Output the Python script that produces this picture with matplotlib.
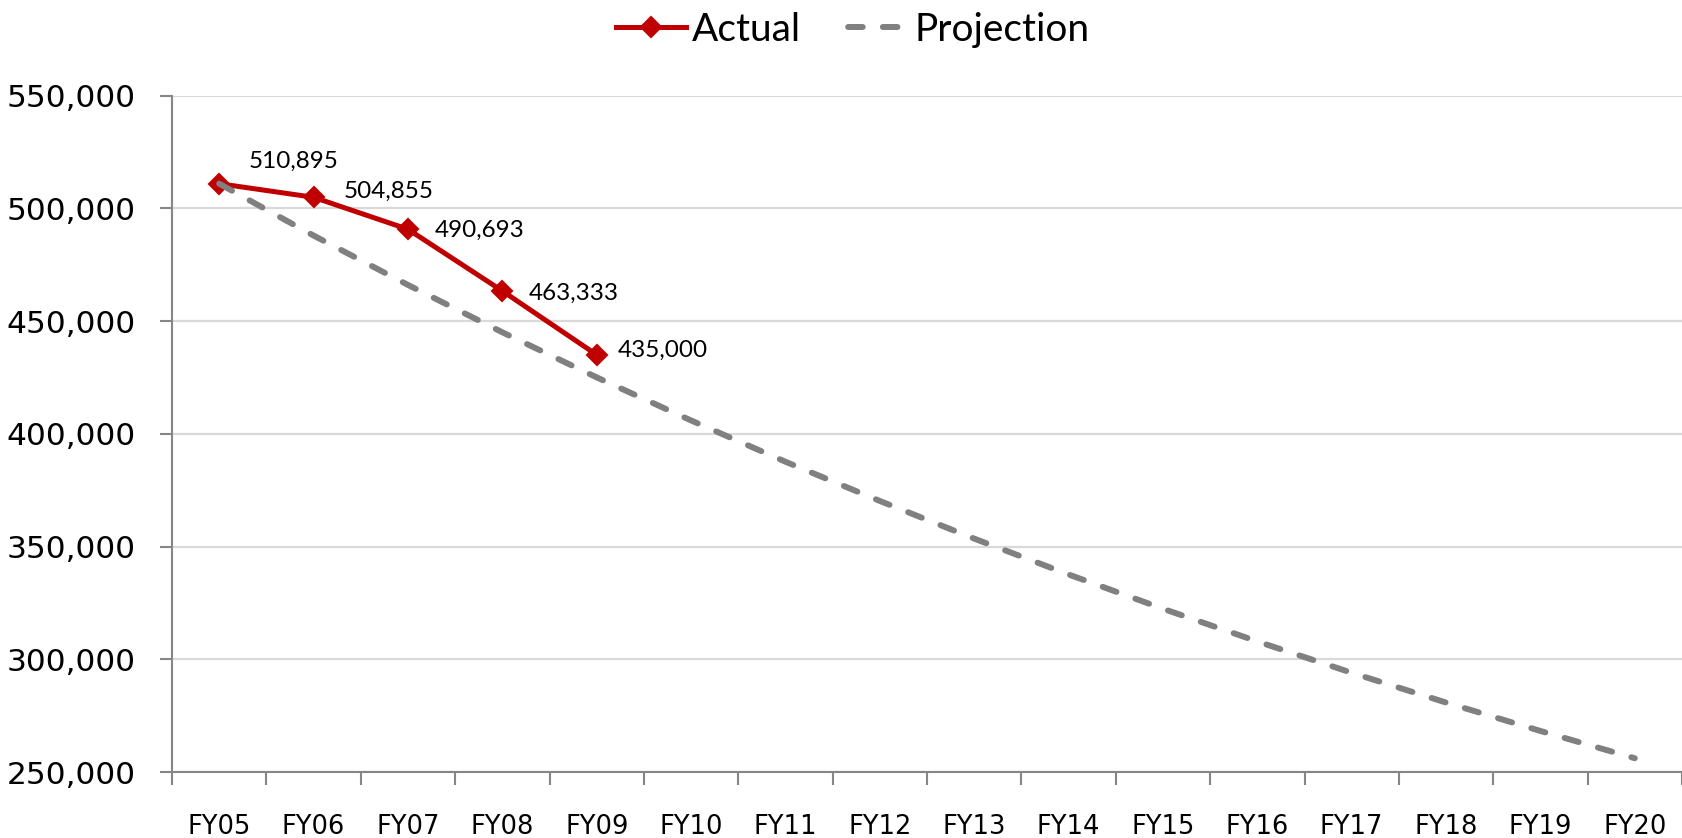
import matplotlib
matplotlib.use("Agg")
import matplotlib.pyplot as plt
from matplotlib.ticker import FuncFormatter, FixedLocator
from matplotlib.lines import Line2D

categories = ["FY05", "FY06", "FY07", "FY08", "FY09", "FY10", "FY11", "FY12",
              "FY13", "FY14", "FY15", "FY16", "FY17", "FY18", "FY19", "FY20"]
actual = [510895, 504855, 490693, 463333, 435000]
projection = [510895, 487900, 466000, 445000, 425000, 405900, 387600, 370200,
              353500, 337600, 322400, 307900, 294000, 280800, 268200, 256100]
y_ticks = [250000, 300000, 350000, 400000, 450000, 500000, 550000]
# label offsets in points (dx, dy)
label_offsets = [(21, 16), (22, 4), (19, -1), (19, -2), (15, 3)]

plt.rcParams['font.family'] = ['DejaVu Sans']
plt.rcParams['lines.scale_dashes'] = False

fig = plt.figure(figsize=(16.82, 8.38), dpi=100)
ax = fig.add_axes([172 / 1682, 66 / 838, 1 - 172 / 1682, (772 - 95.5) / 838])

x_all = list(range(len(categories)))
x_act = x_all[:len(actual)]

red = "#C00000"
gray = "#808080"
dash = (10.5, 14.5)

ax.plot(x_act, actual, color=red, lw=3.6, marker="D", ms=10, mew=1.5,
        mec=red, mfc=red, zorder=3, solid_capstyle="round")
ax.plot(x_all, projection, color=gray, lw=4.3, zorder=4,
        linestyle=(0, dash), dash_capstyle="round")

for xi, v, (dx, dy) in zip(x_act, actual, label_offsets):
    ax.annotate(f"{v:,}", (xi, v), xytext=(dx, dy), textcoords="offset points",
                ha="left", va="center", fontsize=17.5, color="black", family="Lato")

ax.set_xlim(-0.5, len(categories) - 0.5)
ax.set_ylim(y_ticks[0], y_ticks[-1])
ax.set_yticks(y_ticks)
ax.yaxis.set_major_formatter(FuncFormatter(lambda v, p: f"{int(v):,}"))
ax.set_xticks(x_all)
ax.set_xticklabels(categories)
ax.xaxis.set_minor_locator(FixedLocator([i - 0.5 for i in range(len(categories) + 1)]))

axis_gray = "#868686"
ax.tick_params(axis="x", which="major", length=0, pad=30, labelsize=18.5)
ax.tick_params(axis="x", which="minor", length=9, width=1.5, color=axis_gray, direction="out")
ax.tick_params(axis="y", which="major", length=9, width=1.5, color=axis_gray,
               direction="out", pad=17, labelsize=22.5)

for s in ["top", "right"]:
    ax.spines[s].set_visible(False)
for s in ["left", "bottom"]:
    ax.spines[s].set_color(axis_gray)
    ax.spines[s].set_linewidth(1.5)

ax.grid(axis="y", color="#d9d9d9", lw=1.6, zorder=0)
ax.set_axisbelow(True)

h_actual = Line2D([], [], color=red, lw=3.6, marker="D", ms=10, mew=1.5, mec=red, mfc=red)
h_proj = Line2D([], [], color=gray, lw=4.3, linestyle=(17.7, dash), dash_capstyle="round")
leg = fig.legend([h_actual, h_proj], ["Actual", "Projection"], loc="center",
                 bbox_to_anchor=(852.7 / 1682, 1 - 30 / 838),
                 ncol=2, frameon=False, prop={"family": "Lato", "size": 28},
                 handlelength=1.8, handletextpad=0.15, columnspacing=0.95,
                 borderaxespad=0, borderpad=0)

fig.savefig("out.png", dpi=100)
